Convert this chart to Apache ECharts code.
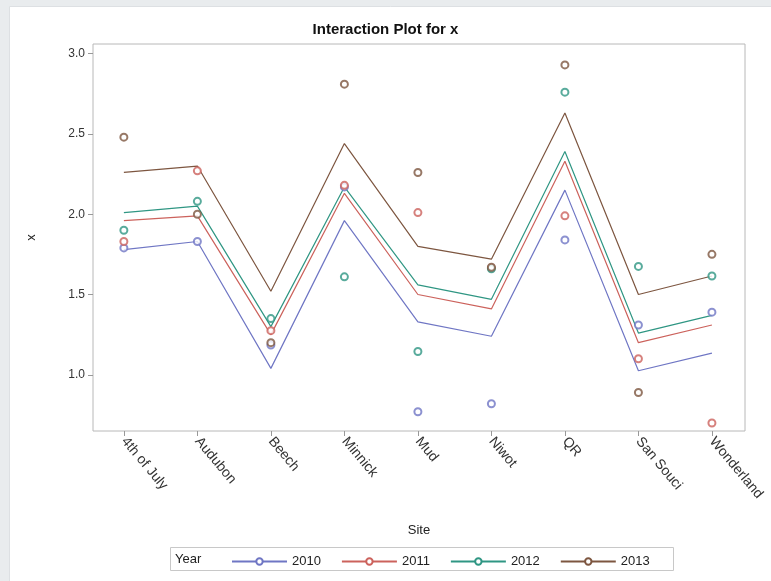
<!DOCTYPE html>
<html>
<head>
<meta charset="utf-8">
<script src="https://cdn.jsdelivr.net/npm/echarts@6/dist/echarts.min.js"></script>
<style>
html,body{margin:0;padding:0;background:#fff;}
#chart{width:771px;height:581px;}
</style>
</head>
<body>
<div id="chart"></div>
<script>
const sites = ['4th of July','Audubon','Beech','Minnick','Mud','Niwot','QR','San Souci','Wonderland'];
const years = ['2010','2011','2012','2013'];
const yTicks = [1.0, 1.5, 2.0, 2.5, 3.0];

// fitted (interaction-plot) lines
const fit2010 = [1.78, 1.83, 1.04, 1.96, 1.33, 1.24, 2.15, 1.025, 1.135];
const fit2011 = [1.96, 1.99, 1.25, 2.13, 1.50, 1.41, 2.33, 1.20, 1.31];
const fit2012 = [2.01, 2.05, 1.30, 2.17, 1.56, 1.47, 2.39, 1.26, 1.37];
const fit2013 = [2.26, 2.30, 1.52, 2.44, 1.80, 1.72, 2.63, 1.50, 1.615];

// observed values (circles)
const obs2010 = [1.79, 1.83, 1.185, 2.17, 0.77, 0.82, 1.84, 1.31, 1.39];
const obs2011 = [1.83, 2.27, 1.275, 2.18, 2.01, 1.665, 1.99, 1.10, 0.70];
const obs2012 = [1.90, 2.08, 1.35, 1.61, 1.145, 1.66, 2.76, 1.675, 1.615];
const obs2013 = [2.48, 2.00, 1.20, 2.81, 2.26, 1.67, 2.93, 0.89, 1.75];

const colors = ['#6f76c4', '#cc625c', '#2f9683', '#7d5640'];
const fits = [fit2010, fit2011, fit2012, fit2013];
const obs = [obs2010, obs2011, obs2012, obs2013];
const siteIdx = sites.map((s, i) => i);
const pair = arr => arr.map((v, i) => [siteIdx[i], v]);

const series = [];
years.forEach((y, i) => {
  series.push({
    name: y, type: 'line', data: pair(fits[i]),
    symbol: 'emptyCircle', symbolSize: 7, showSymbol: false,
    lineStyle: {color: colors[i], width: 1.2},
    itemStyle: {color: colors[i], borderWidth: 1.2},
    silent: true, z: 2
  });
});
years.forEach((y, i) => {
  series.push({
    name: y, type: 'scatter', data: pair(obs[i]),
    symbol: 'emptyCircle', symbolSize: 7,
    itemStyle: {color: colors[i], borderColor: colors[i], borderWidth: 1.4},
    z: 3
  });
});

const FONT = 'Liberation Sans, Arial, sans-serif';
const chart = echarts.init(document.getElementById('chart'));
chart.setOption({
  animation: false,
  textStyle: {fontFamily: FONT},
  title: {
    text: 'Interaction Plot for x', left: 'center', top: 17,
    textStyle: {fontSize: 15, fontWeight: 'bold', color: '#111', fontFamily: FONT}
  },
  graphic: [
    {type: 'rect', left: 0, top: 0, shape: {width: 771, height: 581}, style: {fill: '#e9ecee'}, z: -10, silent: true},
    {type: 'rect', left: 9, top: 6, shape: {width: 762, height: 575}, style: {fill: '#ffffff', stroke: '#dde0e3'}, z: -9, silent: true},
    {type: 'rect', left: 168, top: 545, shape: {width: 503, height: 23}, style: {fill: 'none', stroke: '#c8c8c8', lineWidth: 1}, z: 1, silent: true},
    {type: 'text', left: 175, top: 553, style: {text: 'Year', fontSize: 13, fill: '#222', fontFamily: FONT}, z: 2, silent: true}
  ],
  legend: {
    data: years, left: 226, top: 550, itemWidth: 55, itemHeight: 8, itemGap: 20,
    textStyle: {fontSize: 13, color: '#222'}, selectedMode: false
  },
  grid: {left: 93, right: 26, top: 44, bottom: 150, show: true, borderColor: '#b8b8b8', borderWidth: 1, backgroundColor: '#fff'},
  xAxis: {
    type: 'value', min: -0.42, max: 8.45,
    name: 'Site', nameLocation: 'middle', nameGap: 93,
    nameTextStyle: {fontSize: 13, color: '#222'},
    axisLine: {show: false, onZero: false},
    splitLine: {show: false},
    axisTick: {show: true, length: 5, customValues: siteIdx, lineStyle: {color: '#999'}},
    axisLabel: {rotate: -50, fontSize: 14, color: '#333', margin: 8, customValues: siteIdx, formatter: v => sites[Math.round(v)]}
  },
  yAxis: {
    type: 'value', min: 0.65, max: 3.06,
    name: 'x', nameLocation: 'middle', nameGap: 55, nameRotate: 90,
    nameTextStyle: {fontSize: 13, color: '#222'},
    axisLine: {show: false, onZero: false},
    splitLine: {show: false},
    axisTick: {show: true, length: 5, customValues: yTicks, lineStyle: {color: '#999'}},
    axisLabel: {fontSize: 12, color: '#333', margin: 8, customValues: yTicks, formatter: v => v.toFixed(1)}
  },
  series: series
});
</script>
</body>
</html>
